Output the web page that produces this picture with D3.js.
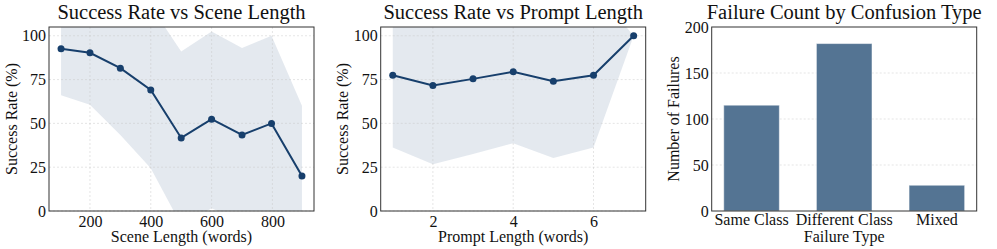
<!DOCTYPE html>
<html>
<head>
<meta charset="utf-8">
<script src="https://cdn.jsdelivr.net/npm/d3@7"></script>
<style>
  body { margin: 0; background: #fff; }
  svg { display: block; font-family: "Liberation Serif", "Times New Roman", serif; }
</style>
</head>
<body>
<div id="chart"></div>
<script>
// scene length panel
var sceneLen = [105, 200, 300, 400, 500, 600, 700, 797, 897];
var sceneRate = [92.6, 90.3, 81.5, 69.1, 41.7, 52.4, 43.4, 50.0, 20.0];
var sceneLow = [66.1, 60.6, 43.4, 24.4, -8, 1.5, -6, 0, -20];
var sceneHigh = [119, 120, 120, 117, 91, 102.5, 93, 100, 60];

// prompt length panel
var promptLen = [1, 2, 3, 4, 5, 6, 7];
var promptRate = [77.5, 71.6, 75.4, 79.4, 74.1, 77.5, 100];
var promptLow = [36.2, 26.7, 32.5, 38.7, 30.3, 36.2, 100];
var promptHigh = [118.8, 116.5, 118.3, 120.1, 117.9, 127, 100];

// failure types
var failTypes = ["Same Class", "Different Class", "Mixed"];
var failCounts = [115, 182, 28];

var rateTicks = [0, 25, 50, 75, 100];
var sceneTicks = [200, 400, 600, 800];
var promptTicks = [2, 4, 6];
var countTicks = [0, 50, 100, 150, 200];

var W = 997, H = 249;
var plotTop = 27, plotBottom = 211, pw = 265;
var lineColor = "#173f6c";
var barColor = "#547493";

var svg = d3.select("#chart").append("svg").attr("width", W).attr("height", H);

function padDomain(arr) {
	var ext = d3.extent(arr);
	var m = (ext[1] - ext[0]) * 0.05;
	return [ext[0] - m, ext[1] + m];
}

function frame(g, x0, title, xlab, ylab) {
	g.append("rect")
		.attr("x", x0).attr("y", plotTop)
		.attr("width", pw).attr("height", plotBottom - plotTop)
		.attr("fill", "none").attr("stroke", "#333").attr("stroke-width", 1);
	g.append("text")
		.attr("x", x0 + pw / 2).attr("y", 19)
		.attr("text-anchor", "middle")
		.attr("font-size", "20.5px").attr("fill", "#111")
		.text(title);
	g.append("text")
		.attr("x", x0 + pw / 2).attr("y", 242)
		.attr("text-anchor", "middle")
		.attr("font-size", "16px").attr("fill", "#111")
		.text(xlab);
	g.append("text")
		.attr("transform", "translate(" + (x0 - 32.5) + "," + ((plotTop + plotBottom) / 2) + ") rotate(-90)")
		.attr("text-anchor", "middle")
		.attr("font-size", "16px").attr("fill", "#111")
		.text(ylab);
}

function styleAxis(a) {
	a.select(".domain").remove();
	a.selectAll("text").attr("font-size", "16px").attr("fill", "#111")
		.attr("font-family", "Liberation Serif, Times New Roman, serif");
}

function linePanel(x0, xs, ys, lo, hi, xticks, title, xlab) {
	var g = svg.append("g");
	var x = d3.scaleLinear().domain(padDomain(xs)).range([x0, x0 + pw]);
	var y = d3.scaleLinear().domain([0, 105]).range([plotBottom, plotTop]);

	var pts = xs.map(function (d, i) { return { x: d, y: ys[i], lo: lo[i], hi: hi[i] }; });

	// nested svg clips the band to the plot box
	var inner = g.append("svg")
		.attr("x", x0).attr("y", plotTop)
		.attr("width", pw).attr("height", plotBottom - plotTop)
		.attr("viewBox", x0 + " " + plotTop + " " + pw + " " + (plotBottom - plotTop))
		.style("overflow", "hidden");

	inner.append("path")
		.datum(pts)
		.attr("fill", "#1f4e79").attr("fill-opacity", 0.12)
		.attr("d", d3.area()
			.x(function (d) { return x(d.x); })
			.y0(function (d) { return y(d.lo); })
			.y1(function (d) { return y(d.hi); }));

	// grid
	g.append("g").selectAll("line").data(rateTicks).enter().append("line")
		.attr("x1", x0).attr("x2", x0 + pw)
		.attr("y1", function (d) { return y(d); }).attr("y2", function (d) { return y(d); })
		.attr("stroke", "#c8c8c8").attr("stroke-opacity", 0.6)
		.attr("stroke-dasharray", "2,2").attr("stroke-width", 0.8);
	g.append("g").selectAll("line").data(xticks).enter().append("line")
		.attr("y1", plotTop).attr("y2", plotBottom)
		.attr("x1", function (d) { return x(d); }).attr("x2", function (d) { return x(d); })
		.attr("stroke", "#c8c8c8").attr("stroke-opacity", 0.6)
		.attr("stroke-dasharray", "2,2").attr("stroke-width", 0.8);

	g.append("path")
		.datum(pts)
		.attr("fill", "none").attr("stroke", lineColor).attr("stroke-width", 2)
		.attr("d", d3.line()
			.x(function (d) { return x(d.x); })
			.y(function (d) { return y(d.y); }));

	g.selectAll("circle.pt").data(pts).enter().append("circle")
		.attr("class", "pt")
		.attr("cx", function (d) { return x(d.x); })
		.attr("cy", function (d) { return y(d.y); })
		.attr("r", 3.5)
		.attr("fill", lineColor);

	var xa = g.append("g").attr("transform", "translate(0," + plotBottom + ")")
		.call(d3.axisBottom(x).tickValues(xticks).tickFormat(d3.format("d")).tickSize(0).tickPadding(5));
	styleAxis(xa);
	var ya = g.append("g").attr("transform", "translate(" + x0 + ",0)")
		.call(d3.axisLeft(y).tickValues(rateTicks).tickSize(0).tickPadding(3));
	styleAxis(ya);

	frame(g, x0, title, xlab, "Success Rate (%)");
}

function barPanel(x0) {
	var g = svg.append("g");
	var x = d3.scaleBand().domain(failTypes).range([x0, x0 + pw])
		.paddingInner(0.4).paddingOuter(0.13);
	var y = d3.scaleLinear().domain([0, 200]).range([plotBottom, plotTop]);

	g.append("g").selectAll("line").data(countTicks.slice(1, 4)).enter().append("line")
		.attr("x1", x0).attr("x2", x0 + pw)
		.attr("y1", function (d) { return y(d); }).attr("y2", function (d) { return y(d); })
		.attr("stroke", "#c8c8c8").attr("stroke-opacity", 0.6)
		.attr("stroke-dasharray", "2,2").attr("stroke-width", 0.8);

	g.selectAll("rect.bar").data(failCounts).enter().append("rect")
		.attr("class", "bar")
		.attr("x", function (d, i) { return x(failTypes[i]); })
		.attr("width", x.bandwidth())
		.attr("y", function (d) { return y(d); })
		.attr("height", function (d) { return plotBottom - y(d); })
		.attr("fill", barColor)
		.attr("stroke", "#fff").attr("stroke-opacity", 0.5).attr("stroke-width", 1);

	var xa = g.append("g").attr("transform", "translate(0," + plotBottom + ")")
		.call(d3.axisBottom(x).tickSize(0).tickPadding(3));
	styleAxis(xa);
	var ya = g.append("g").attr("transform", "translate(" + x0 + ",0)")
		.call(d3.axisLeft(y).tickValues(countTicks).tickSize(0).tickPadding(3));
	styleAxis(ya);

	frame(g, x0, "Failure Count by Confusion Type", "Failure Type", "Number of Failures");
}

linePanel(49, sceneLen, sceneRate, sceneLow, sceneHigh, sceneTicks,
	"Success Rate vs Scene Length", "Scene Length (words)");
linePanel(380.7, promptLen, promptRate, promptLow, promptHigh, promptTicks,
	"Success Rate vs Prompt Length", "Prompt Length (words)");
barPanel(711.7);
</script>
</body>
</html>
